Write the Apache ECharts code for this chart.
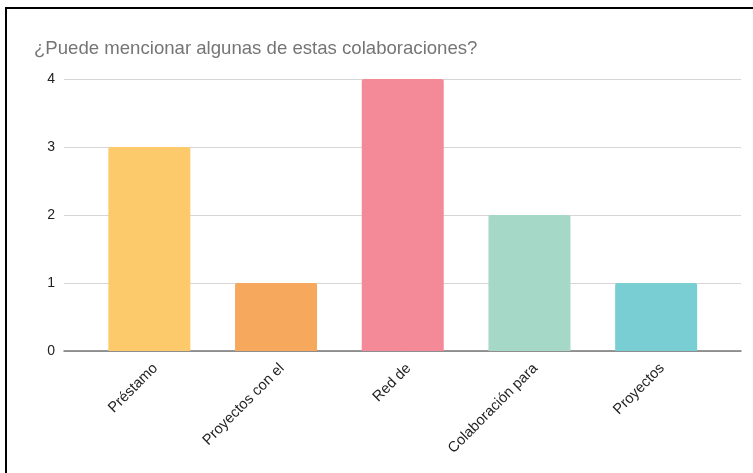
<!DOCTYPE html>
<html>
<head>
<meta charset="utf-8">
<script src="https://cdn.jsdelivr.net/npm/echarts@6/dist/echarts.min.js"></script>
<style>
html,body{margin:0;padding:0;background:#fff;}
#chart{width:753px;height:473px;}
</style>
</head>
<body>
<div id="chart"></div>
<script>
const title = "¿Puede mencionar algunas de estas colaboraciones?";
const categories = ["Préstamo", "Proyectos con el", "Red de", "Colaboración para", "Proyectos"];
const values = [3, 1, 4, 2, 1];
const yTicks = [0, 1, 2, 3, 4];
const barColors = ["#FCC96B", "#F6A85D", "#F48A98", "#A5D8C6", "#78CED2"];

const chart = echarts.init(document.getElementById('chart'), null, {renderer: 'canvas'});
const FONT = "'Liberation Sans', Arial, sans-serif";
const LABEL_DX = 6;
const option = {
  animation: false,
  backgroundColor: '#fff',
  title: {
    text: title,
    left: 29,
    top: 34,
    textStyle: {fontFamily: FONT, fontSize: 18.6, fontWeight: 'normal', color: '#757575'}
  },
  graphic: [{
    type: 'rect',
    shape: {x: 6, y: 8, width: 900, height: 600},
    style: {fill: 'none', stroke: '#000', lineWidth: 2},
    silent: true
  }],
  grid: [
    {left: 64, right: 12, top: 79, bottom: 122},
    {left: 86, right: 33.5, top: 79, bottom: 122},
    {left: 86 + LABEL_DX, right: 33.5 - LABEL_DX, top: 79, bottom: 122}
  ],
  xAxis: [
    {
      type: 'value', gridIndex: 0, min: 0, max: 1,
      axisLine: {show: true, lineStyle: {color: '#777', width: 1.5}},
      axisTick: {show: false}, axisLabel: {show: false}, splitLine: {show: false}
    },
    {
      type: 'category', gridIndex: 1, data: categories,
      axisLine: {show: false}, axisTick: {show: false}, splitLine: {show: false},
      axisLabel: {show: false}
    },
    {
      type: 'category', gridIndex: 2, data: categories,
      axisLine: {show: false}, axisTick: {show: false}, splitLine: {show: false},
      axisLabel: {
        interval: 0, rotate: 45, margin: 15,
        fontFamily: FONT, fontSize: 14.7, color: '#222'
      }
    }
  ],
  yAxis: [
    {
      type: 'value', gridIndex: 0, min: yTicks[0], max: yTicks[yTicks.length - 1], interval: 1,
      axisLine: {show: false}, axisTick: {show: false},
      splitLine: {show: true, lineStyle: {color: '#d6d6d6', width: 1}},
      axisLabel: {margin: 9, fontFamily: FONT, fontSize: 14, color: '#222'}
    },
    {
      type: 'value', gridIndex: 1, min: yTicks[0], max: yTicks[yTicks.length - 1], show: false
    },
    {
      type: 'value', gridIndex: 2, min: yTicks[0], max: yTicks[yTicks.length - 1], show: false
    }
  ],
  series: [{
    type: 'bar',
    xAxisIndex: 1, yAxisIndex: 1,
    barWidth: 82,
    data: values.map((v, i) => ({value: v, itemStyle: {color: barColors[i], borderRadius: [2, 2, 0, 0]}}))
  }]
};
chart.setOption(option);
</script>
</body>
</html>
